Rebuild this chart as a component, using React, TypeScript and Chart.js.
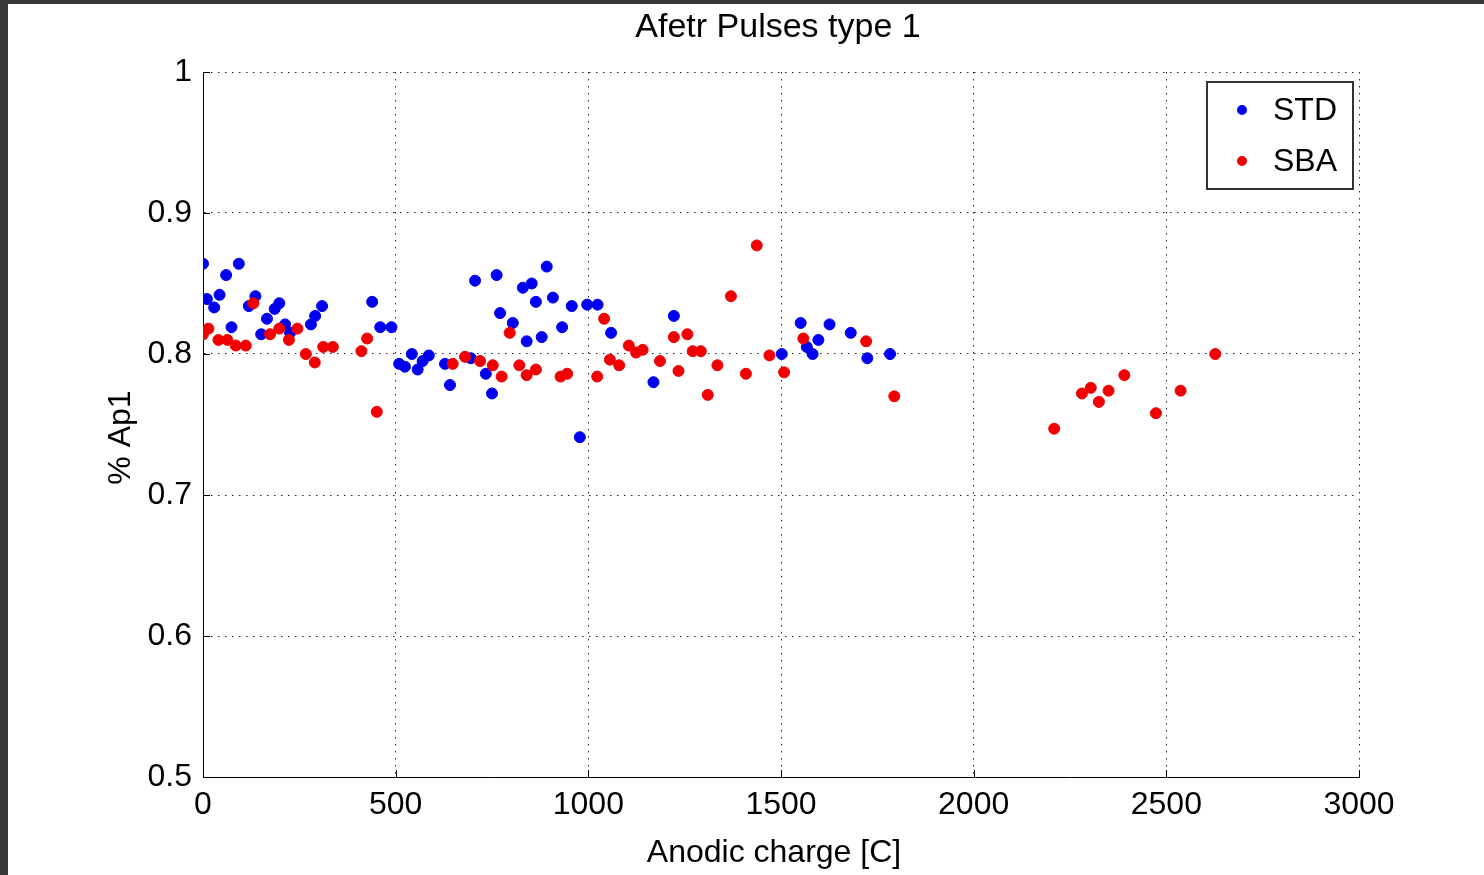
import React, { useEffect, useRef } from "react";
import { Chart, registerables } from "chart.js";

Chart.register(...registerables);

// STD tubes: anodic charge [C] and after-pulse fraction
const stdCharge = [
  0, 10, 29, 43, 60, 74, 93, 119, 136, 151, 166, 186, 198, 213, 226, 280, 291, 309,
  439, 460, 489, 509, 524, 542, 557, 570, 586,
  628, 641, 695, 706, 734, 750, 762, 771, 804, 830, 840, 853, 864, 879, 892, 908,
  932, 957, 978, 997, 1024, 1059, 1169, 1222,
  1502, 1551, 1567, 1582, 1597, 1626, 1681, 1724, 1783,
];
const stdAp1 = [
  0.864, 0.839, 0.833, 0.842, 0.856, 0.819, 0.864, 0.834, 0.841, 0.814, 0.825, 0.832, 0.836, 0.821, 0.815, 0.821, 0.827, 0.834,
  0.837, 0.819, 0.819, 0.793, 0.791, 0.8, 0.789, 0.795, 0.799,
  0.793, 0.778, 0.797, 0.852, 0.786, 0.772, 0.856, 0.829, 0.822, 0.847, 0.809, 0.85, 0.837, 0.812, 0.862, 0.84,
  0.819, 0.834, 0.741, 0.835, 0.835, 0.815, 0.78, 0.827,
  0.8, 0.822, 0.805, 0.8, 0.81, 0.821, 0.815, 0.797, 0.8,
];

// SBA tubes
const sbaCharge = [
  0, 14, 40, 63, 85, 111, 131, 174, 198, 223, 245, 267, 290, 312, 337, 411, 426, 451,
  648, 680, 719, 752, 775, 796, 821, 840, 864, 928, 945, 1023, 1041, 1056, 1080, 1105, 1124, 1141, 1186, 1222, 1234,
  1257, 1271, 1292, 1310, 1335, 1370, 1409, 1437, 1470, 1508, 1558, 1721, 1794,
  2209, 2281, 2304, 2325, 2350, 2391, 2473, 2537, 2627,
];
const sbaAp1 = [
  0.814, 0.818, 0.81, 0.81, 0.806, 0.806, 0.836, 0.814, 0.818, 0.81, 0.818, 0.8, 0.794, 0.805, 0.805, 0.802, 0.811, 0.759,
  0.793, 0.798, 0.795, 0.792, 0.784, 0.815, 0.792, 0.785, 0.789, 0.784, 0.786, 0.784, 0.825, 0.796, 0.792, 0.806, 0.801, 0.803, 0.795, 0.812, 0.788,
  0.814, 0.802, 0.802, 0.771, 0.792, 0.841, 0.786, 0.877, 0.799, 0.787, 0.811, 0.809, 0.77,
  0.747, 0.772, 0.776, 0.766, 0.774, 0.785, 0.758, 0.774, 0.8,
];

const seriesNames = ["STD", "SBA"];
const seriesColors = ["#0000f0", "#f00000"];

const xTicks = [0, 500, 1000, 1500, 2000, 2500, 3000];
const xTickLabels = ["0", "500", "1000", "1500", "2000", "2500", "3000"];
const yTicks = [0.5, 0.6, 0.7, 0.8, 0.9, 1];
const yTickLabels = ["0.5", "0.6", "0.7", "0.8", "0.9", "1"];

const chartTitle = "Afetr Pulses type 1";
const xAxisTitle = "Anodic charge [C]";
const yAxisTitle = "% Ap1";

const FONT_FAMILY = '"Liberation Sans", Arial, Helvetica, sans-serif';

const toPoints = (xs: number[], ys: number[]) => xs.map((x, i) => ({ x, y: ys[i] }));

// Title, axis labels, inward tick marks and a boxed legend in the top-right corner
const axesDecor = {
  id: "axesDecor",
  afterDraw(chart: any) {
    const { ctx, chartArea: a, scales } = chart;
    const cx = (a.left + a.right) / 2;
    const cy = (a.top + a.bottom) / 2;
    ctx.save();

    ctx.strokeStyle = "#000";
    ctx.lineWidth = 1;
    xTicks.forEach((v) => {
      const px = Math.round(scales.x.getPixelForValue(v)) + 0.5;
      ctx.beginPath();
      ctx.moveTo(px, a.bottom);
      ctx.lineTo(px, a.bottom - 7);
      ctx.stroke();
    });
    yTicks.forEach((v) => {
      const py = Math.round(scales.y.getPixelForValue(v)) + 0.5;
      ctx.beginPath();
      ctx.moveTo(a.left, py);
      ctx.lineTo(a.left + 7, py);
      ctx.stroke();
    });

    ctx.fillStyle = "#000";
    ctx.textAlign = "center";
    ctx.textBaseline = "middle";
    ctx.font = `34px ${FONT_FAMILY}`;
    ctx.fillText(chartTitle, cx - 3, a.top - 44);
    ctx.font = `32px ${FONT_FAMILY}`;
    ctx.fillText(xAxisTitle, cx - 7, a.bottom + 76);
    ctx.save();
    ctx.translate(a.left - 82, cy + 13);
    ctx.rotate(-Math.PI / 2);
    ctx.fillText(yAxisTitle, 0, 0);
    ctx.restore();

    const bw = 146;
    const bh = 107;
    const bx = a.right - 6 - bw;
    const by = a.top + 10;
    ctx.fillStyle = "#fff";
    ctx.fillRect(bx, by, bw, bh);
    ctx.strokeStyle = "#333";
    ctx.lineWidth = 2;
    ctx.strokeRect(bx, by, bw, bh);
    chart.data.datasets.forEach((ds: any, i: number) => {
      const ly = by + 28 + i * 51;
      ctx.fillStyle = ds.backgroundColor;
      ctx.beginPath();
      ctx.arc(bx + 35, ly, 5, 0, Math.PI * 2);
      ctx.fill();
      ctx.fillStyle = "#000";
      ctx.font = `32px ${FONT_FAMILY}`;
      ctx.textAlign = "left";
      ctx.textBaseline = "middle";
      ctx.fillText(ds.label, bx + 66, ly + 1);
    });
    ctx.restore();
  },
};

export default function App() {
  const canvasRef = useRef<HTMLCanvasElement | null>(null);

  useEffect(() => {
    if (!canvasRef.current) return;
    const font = { family: FONT_FAMILY, size: 32 };
    const chart = new Chart(canvasRef.current, {
      type: "scatter",
      data: {
        datasets: [
          {
            label: seriesNames[0],
            data: toPoints(stdCharge, stdAp1),
            backgroundColor: seriesColors[0],
            borderColor: seriesColors[0],
            borderWidth: 1,
            pointRadius: 5.5,
            order: 1,
          },
          {
            label: seriesNames[1],
            data: toPoints(sbaCharge, sbaAp1),
            backgroundColor: seriesColors[1],
            borderColor: seriesColors[1],
            borderWidth: 1,
            pointRadius: 5.5,
            order: 0,
          },
        ],
      },
      options: {
        responsive: false,
        animation: false,
        layout: { padding: { left: 0, right: 125, top: 72, bottom: 0 } },
        plugins: {
          legend: { display: false },
          tooltip: { enabled: false },
          title: { display: false },
        },
        scales: {
          x: {
            type: "linear",
            min: 0,
            max: 3000,
            afterBuildTicks: (s: any) => {
              s.ticks = xTicks.map((value) => ({ value }));
            },
            afterFit: (s: any) => {
              s.height = 98;
              s.paddingLeft = 0;
              s.paddingRight = 0;
            },
            ticks: {
              font,
              color: "#000",
              padding: 9,
              maxRotation: 0,
              autoSkip: false,
              callback: (_v: any, i: number) => xTickLabels[i],
            },
            grid: { color: "rgba(0,0,0,0.85)", lineWidth: 1, drawTicks: false },
            border: { display: true, color: "#000", width: 1, dash: [1.5, 5.5] },
          },
          y: {
            type: "linear",
            min: 0.5,
            max: 1,
            afterBuildTicks: (s: any) => {
              s.ticks = yTicks.map((value) => ({ value }));
            },
            afterFit: (s: any) => {
              s.width = 203;
              s.paddingTop = 0;
              s.paddingBottom = 0;
            },
            ticks: {
              font,
              color: "#000",
              padding: 11,
              autoSkip: false,
              callback: (_v: any, i: number) => yTickLabels[i],
            },
            grid: { color: "rgba(0,0,0,0.85)", lineWidth: 1, drawTicks: false },
            border: { display: true, color: "#000", width: 1, dash: [1.5, 5.5] },
          },
        },
      },
      plugins: [axesDecor],
    } as any);
    return () => chart.destroy();
  }, []);

  return (
    <div
      style={{
        position: "absolute",
        left: 0,
        top: 0,
        width: 1484,
        height: 875,
        background: "#383838",
        overflow: "hidden",
      }}
    >
      <div
        style={{ position: "absolute", left: 8, top: 4, right: 0, bottom: 0, background: "#fff" }}
      />
      <canvas
        ref={canvasRef}
        width={1484}
        height={875}
        style={{ position: "absolute", left: 0, top: 0, width: 1484, height: 875 }}
      />
    </div>
  );
}
